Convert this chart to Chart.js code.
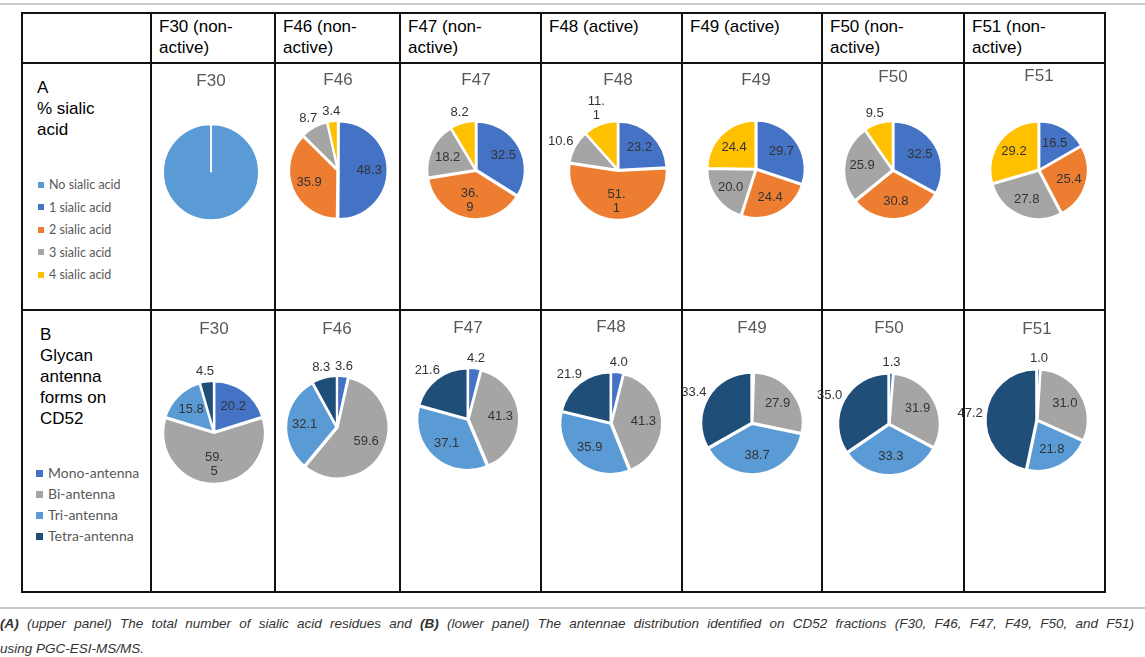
<!DOCTYPE html>
<html>
<head>
<meta charset="utf-8">
<script src="https://cdn.jsdelivr.net/npm/chart.js@4.4.0/dist/chart.umd.min.js"></script>
<style>
  body { margin: 0; background: #fff; width: 1145px; height: 657px; position: relative; overflow: hidden;
         font-family: "Liberation Sans", Arial, sans-serif; }
  .hline { position: absolute; height: 2px; background: #111; }
  .vline { position: absolute; width: 2px; background: #111; }
  .grey { position: absolute; left: 0; width: 1145px; height: 2px; background: #cacaca; }
  .txt { position: absolute; font-size: 17px; line-height: 21px; color: #000; white-space: nowrap; }
  .legend { position: absolute; font-family: Lato, sans-serif; color: #595959; white-space: nowrap; }
  .legend span { display: inline-block; vertical-align: middle; margin-right: 5px; position: relative; top: -1px; }
  .box { position: absolute; }
  .caption { position: absolute; left: 0; width: 1134px; font-size: 13.5px; line-height: 25px;
             font-style: italic; color: #333; }
  .justifie { text-align: justify; text-align-last: justify; }
</style>
</head>
<body>
<script>
// ---- Données ----
const fractions = ["F30", "F46", "F47", "F48", "F49", "F50", "F51"];
const headers = [["F30 (non-", "active)"], ["F46 (non-", "active)"], ["F47 (non-", "active)"],
                 ["F48 (active)"], ["F49 (active)"], ["F50 (non-", "active)"], ["F51 (non-", "active)"]];

// A : % sialic acid (par fraction)
const sialicCats = ["No sialic acid", "1 sialic acid", "2 sialic acid", "3 sialic acid", "4 sialic acid"];
const noSialic = [100, 0, 0, 0, 0, 0, 0];
const sialic1 = [0, 48.3, 32.5, 23.2, 29.7, 32.5, 16.5];
const sialic2 = [0, 35.9, 36.9, 51.1, 24.4, 30.8, 25.4];
const sialic3 = [0, 8.7, 18.2, 10.6, 20.0, 25.9, 27.8];
const sialic4 = [0, 3.4, 8.2, 11.1, 24.4, 9.5, 29.2];

// B : formes d'antennes
const antennaCats = ["Mono-antenna", "Bi-antenna", "Tri-antenna", "Tetra-antenna"];
const mono = [20.2, 3.6, 4.2, 4.0, 0.5, 1.3, 1.0];
const bi = [59.5, 59.6, 41.3, 41.3, 27.9, 31.9, 31.0];
const tri = [15.8, 32.1, 37.1, 35.9, 38.7, 33.3, 21.8];
const tetra = [4.5, 8.3, 21.6, 21.9, 33.4, 35.0, 47.2];

// étiquettes coupées sur deux lignes comme dans l'original
const wrappedLabels = ["36.9", "51.1", "11.1", "59.5"];

// ---- Mise en page ----
const sialicColors = ["#5b9bd5", "#4472c4", "#ed7d31", "#a5a5a5", "#ffc000"];
const antennaColors = ["#4472c4", "#a5a5a5", "#5b9bd5", "#1f4e79"];
const colX = [22, 151, 275, 400, 541, 682, 822, 964, 1105];
const rowY = [13, 63, 310, 592];
const layoutA = { cx: [211, 338, 476, 618, 756, 893, 1039], titleY: [81, 80, 80, 80, 80, 77, 76],
                  cy: [172, 170, 170, 170, 169, 170, 170], r: 48 };
const layoutB = { cx: [214, 337, 468, 611, 752, 889, 1037], titleY: [329, 329, 328, 327, 328, 328, 329],
                  cy: [432, 427, 419, 423, 423, 424, 420], r: 50 };

function add(tag, cls, css, html) {
  const el = document.createElement(tag);
  if (cls) el.className = cls;
  Object.assign(el.style, css);
  if (html !== undefined) el.innerHTML = html;
  document.body.appendChild(el);
  return el;
}

function dessinerTableau() {
  add("div", "grey", { top: "3px" });
  add("div", "grey", { top: "607px" });
  colX.forEach(x => add("div", "vline", { left: (x - 1) + "px", top: (rowY[0] - 1) + "px",
                                          height: (rowY[3] - rowY[0] + 2) + "px" }));
  rowY.forEach(y => add("div", "hline", { left: (colX[0] - 1) + "px", top: (y - 1) + "px",
                                          width: (colX[8] - colX[0] + 2) + "px" }));
  headers.forEach((h, i) => add("div", "txt", { left: (colX[i + 1] + 8) + "px", top: "16px" }, h.join("<br>")));
  add("div", "txt", { left: "37px", top: "77px" }, "A<br>% sialic<br>acid");
  add("div", "txt", { left: "40px", top: "324px" }, "B<br>Glycan<br>antenna<br>forms on<br>CD52");

  const legA = add("div", "legend", { left: "38px", top: "174px", fontSize: "12.5px", lineHeight: "22.5px" });
  legA.innerHTML = sialicCats.map((c, i) =>
    `<div><span style="width:6px;height:6px;background:${sialicColors[i]}"></span>${c}</div>`).join("");
  const legB = add("div", "legend", { left: "36px", top: "462px", fontSize: "14px", lineHeight: "21px" });
  legB.innerHTML = antennaCats.map((c, i) =>
    `<div><span style="width:7px;height:7px;background:${antennaColors[i]}"></span>${c}</div>`).join("");

  add("div", "caption justifie", { top: "611px" }, "<b>(A)</b> (upper panel) The total number of sialic acid residues and " +
    "<b>(B)</b> (lower panel) The antennae distribution identified on CD52 fractions (F30, F46, F47, F49, F50, and F51)");
  add("div", "caption", { top: "636px" }, "using PGC-ESI-MS/MS.");
}

// ---- Étiquettes de valeurs ----
function estSombre(hex) {
  const n = parseInt(hex.slice(1), 16);
  return (0.3 * (n >> 16) + 0.59 * ((n >> 8) & 255) + 0.11 * (n & 255)) / 255 < 0.35;
}

const pieLabels = {
  id: "pieLabels",
  afterDatasetsDraw(chart) {
    const ctx = chart.ctx;
    const ds = chart.data.datasets[0];
    const total = ds.data.reduce((a, b) => a + b, 0);
    const shift = (ds.offset || 0) / 2;
    ctx.save();
    ctx.font = '13px "Liberation Sans", Arial, sans-serif';
    ctx.fillStyle = "#333";
    ctx.textAlign = "center";
    ctx.textBaseline = "middle";
    chart.getDatasetMeta(0).data.forEach((arc, i) => {
      const v = ds.data[i];
      if (v < 1 || total === v) return;
      const p = arc.getProps(["x", "y", "startAngle", "endAngle", "outerRadius"], true);
      const mid = (p.startAngle + p.endAngle) / 2;
      const dx = Math.cos(mid), dy = Math.sin(mid);
      const text = v.toFixed(1);
      const lines = wrappedLabels.includes(text) ? [text.slice(0, 3), text.slice(3)] : [text];
      const w = Math.max(...lines.map(l => ctx.measureText(l).width));
      const h = 14 * lines.length;
      const dehors = v / total < 0.12 || estSombre(ds.backgroundColor[i]);
      let x, y;
      if (dehors) {
        const d = p.outerRadius + shift + 3;
        x = p.x + dx * d + dx * w / 2;
        y = p.y + dy * d + dy * h / 2;
      } else {
        const d = p.outerRadius * 0.62 + shift;
        x = p.x + dx * d;
        y = p.y + dy * d;
      }
      lines.forEach((l, k) => ctx.fillText(l, x, y + (k - (lines.length - 1) / 2) * 14));
    });
    ctx.restore();
  }
};

function camembert(titre, cats, valeurs, couleurs, cx, cy, titleY, r) {
  const top = titleY - 10.2;
  const h = 20.4 + 2 * (cy - top - 20.4);
  const box = add("div", "box", { left: (cx - 90) + "px", top: top + "px", width: "180px", height: h + "px" });
  const canvas = document.createElement("canvas");
  box.appendChild(canvas);
  const nonNuls = valeurs.filter(v => v > 0).length;
  new Chart(canvas, {
    type: "pie",
    data: {
      labels: cats,
      datasets: [{
        data: valeurs,
        backgroundColor: couleurs,
        borderColor: "#fff",
        borderWidth: 2,
        offset: nonNuls > 1 ? 3 : 0,
        radius: r
      }]
    },
    options: {
      responsive: true,
      maintainAspectRatio: false,
      animation: false,
      radius: r,
      layout: { padding: 0 },
      plugins: {
        legend: { display: false },
        tooltip: { enabled: false },
        title: {
          display: true, text: titre, color: "#595959",
          font: { family: "'Liberation Sans', Arial, sans-serif", size: 17, weight: "normal" },
          padding: { top: 0, bottom: 0 }
        }
      }
    },
    plugins: [pieLabels]
  });
}

window.onload = () => {
  dessinerTableau();
  fractions.forEach((f, i) => {
    camembert(f, sialicCats, [noSialic[i], sialic1[i], sialic2[i], sialic3[i], sialic4[i]], sialicColors,
              layoutA.cx[i], layoutA.cy[i], layoutA.titleY[i], layoutA.r);
    camembert(f, antennaCats, [mono[i], bi[i], tri[i], tetra[i]], antennaColors,
              layoutB.cx[i], layoutB.cy[i], layoutB.titleY[i], layoutB.r);
  });
};
</script>
</body>
</html>
